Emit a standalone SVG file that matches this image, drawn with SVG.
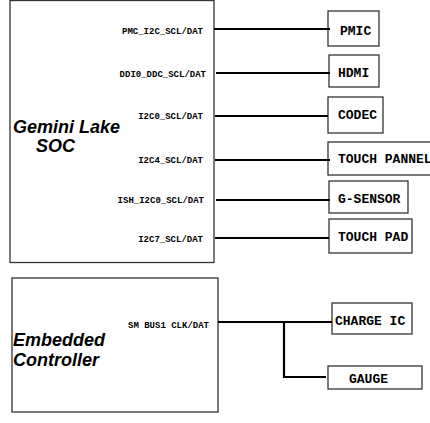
<svg xmlns="http://www.w3.org/2000/svg" width="430" height="423" viewBox="0 0 430 423">
<style>
.box{fill:#fff;stroke:#333;stroke-width:1.3}
.big{font-family:"Liberation Sans",Arial,sans-serif;font-weight:bold;font-style:italic;font-size:18px;fill:#000}
.sig{font-family:"Liberation Mono","Courier New",monospace;font-weight:bold;font-size:9px;fill:#000;text-anchor:end}
.dev{font-family:"Liberation Mono","Courier New",monospace;font-weight:bold;font-size:13px;fill:#000}
.wire{fill:none;stroke:#000;stroke-width:2.2}
</style>
<rect width="430" height="423" fill="#fff"/>
<g id="soc">
<rect class="box" x="10" y="0.5" width="204" height="262"/>
<text class="big" x="13" y="133">Gemini Lake</text>
<text class="big" x="36" y="152">SOC</text>
<text class="sig" x="203" y="34">PMC_I2C_SCL/DAT</text>
<text class="sig" x="206" y="77">DDI0_DDC_SCL/DAT</text>
<text class="sig" x="203" y="119">I2C0_SCL/DAT</text>
<text class="sig" x="203" y="163">I2C4_SCL/DAT</text>
<text class="sig" x="204" y="203">ISH_I2C0_SCL/DAT</text>
<text class="sig" x="203" y="242">I2C7_SCL/DAT</text>
</g>
<g id="ec">
<rect class="box" x="12" y="278" width="206" height="134"/>
<text class="big" x="13" y="346">Embedded</text>
<text class="big" x="13" y="366">Controller</text>
<text class="sig" x="209" y="328">SM BUS1 CLK/DAT</text>
</g>
<g id="pmic"><rect class="box" x="328" y="11" width="51" height="35"/><text class="dev" x="340" y="35">PMIC</text></g>
<g id="hdmi"><rect class="box" x="329" y="55" width="50" height="32"/><text class="dev" x="338" y="77">HDMI</text></g>
<g id="codec"><rect class="box" x="328" y="97" width="55" height="36"/><text class="dev" x="338" y="119">CODEC</text></g>
<g id="touchpannel"><rect class="box" x="328" y="142" width="110" height="33"/><text class="dev" x="338" y="163">TOUCH PANNEL</text></g>
<g id="gsensor"><rect class="box" x="329" y="181" width="79" height="32"/><text class="dev" x="338" y="203">G-SENSOR</text></g>
<g id="touchpad"><rect class="box" x="329" y="219" width="83" height="34"/><text class="dev" x="338" y="241">TOUCH PAD</text></g>
<g id="chargeic"><rect class="box" x="332" y="303" width="80" height="31"/><text class="dev" x="335" y="325">CHARGE IC</text></g>
<g id="gauge"><rect class="box" x="328" y="366" width="94" height="23"/><text class="dev" x="349" y="383">GAUGE</text></g>
<g id="connectors">
<path class="wire" d="M214 29H330"/>
<path class="wire" d="M216 73H330"/>
<path class="wire" d="M215 116H328"/>
<path class="wire" d="M215 160H330"/>
<path class="wire" d="M216 200H330"/>
<path class="wire" d="M215 238H329"/>
<path class="wire" d="M218 322H332"/>
<path class="wire" d="M284 322V377H326"/>
</g>
</svg>
